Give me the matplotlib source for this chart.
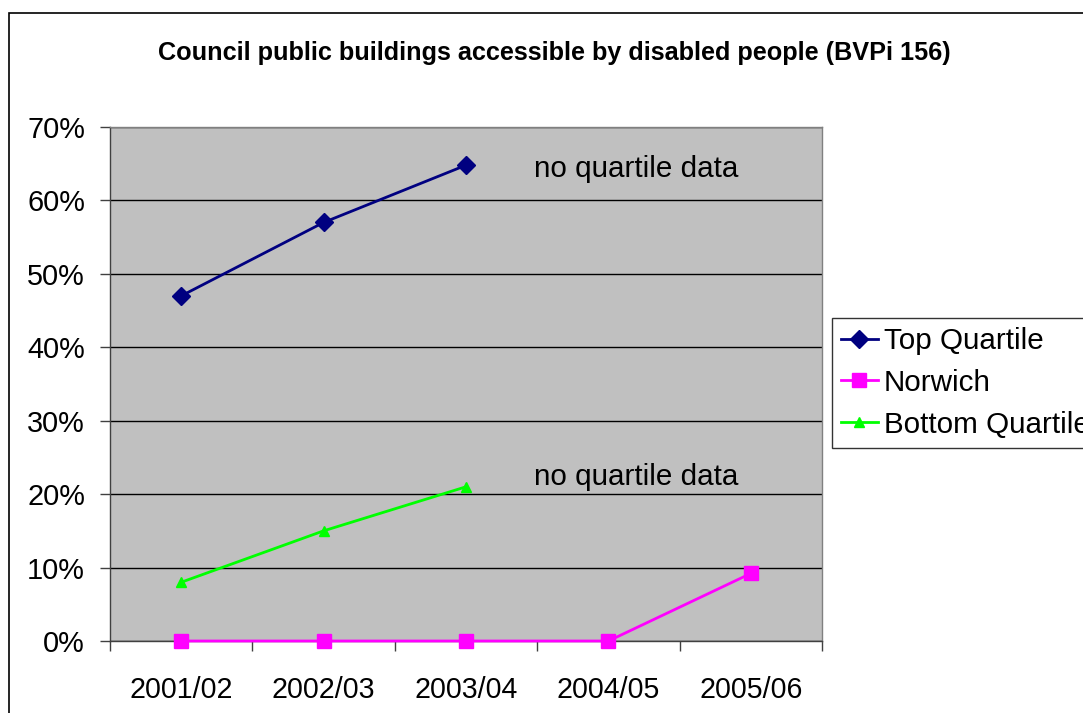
import matplotlib
matplotlib.use("Agg")
import matplotlib.pyplot as plt
from matplotlib.patches import Rectangle
from matplotlib.ticker import FuncFormatter, FixedLocator

categories = ["2001/02", "2002/03", "2003/04", "2004/05", "2005/06"]
top_quartile = [47, 57, 64.8]
norwich = [0, 0, 0, 0, 9.2]
bottom_quartile = [8, 15, 21]
title = "Council public buildings accessible by disabled people (BVPi 156)"
note = "no quartile data"

plt.rcParams['font.family'] = ['Liberation Sans', 'DejaVu Sans']

fig = plt.figure(figsize=(10.83, 7.13), dpi=100)
W, H = 1083, 713
ax = fig.add_axes([110 / W, 1 - 641 / H, (822 - 110) / W, (641 - 127) / H])
ax.set_facecolor('#C0C0C0')

x = list(range(len(categories)))
ax.plot(x[:3], top_quartile, color='#000080', lw=2, marker='D', ms=9, zorder=3, label='Top Quartile')
ax.plot(x, norwich, color='#FF00FF', lw=2, marker='s', ms=10, zorder=3, label='Norwich', clip_on=False)
ax.plot(x[:3], bottom_quartile, color='#00FF00', lw=2, marker='^', ms=7, zorder=3, label='Bottom Quartile')

ax.set_xlim(-0.5, 4.5)
ax.set_ylim(0, 70)
ax.yaxis.set_major_locator(FixedLocator(range(0, 71, 10)))
ax.yaxis.set_major_formatter(FuncFormatter(lambda v, p: f"{v:.0f}%"))
ax.grid(axis='y', color='black', lw=1, zorder=1)
ax.set_axisbelow(True)

ax.set_xticks([i - 0.5 for i in range(len(categories) + 1)], minor=False)
ax.set_xticklabels([])
ax.set_xticks(x, minor=True)
ax.set_xticklabels(categories, minor=True)
ax.tick_params(axis='x', which='major', length=7.2, width=1, color='#404040', direction='out')
ax.tick_params(axis='x', which='minor', length=0, labelsize=20.6, pad=25)
ax.tick_params(axis='y', length=7.2, width=1, color='#404040', labelsize=20.8, pad=10.8)

for side in ['top', 'right']:
    ax.spines[side].set_color('#808080')
    ax.spines[side].set_linewidth(1)
for side in ['left', 'bottom']:
    ax.spines[side].set_color('#404040')
    ax.spines[side].set_linewidth(1)

ax.text(2.48, 64.3, note, fontsize=21.3, va='center', ha='left')
ax.text(2.48, 22.3, note, fontsize=21.3, va='center', ha='left')

fig.text(554 / W, 1 - 53 / H, title, fontsize=18.2, fontweight='bold', ha='center', va='center')

leg = fig.legend(loc='upper left', bbox_to_anchor=(832 / W, 1 - 318 / H), fontsize=21.3,
                 frameon=True, fancybox=False, edgecolor='black', handlelength=1.25,
                 handletextpad=0.2, borderpad=0.3, labelspacing=0.47, borderaxespad=0)
leg.get_frame().set_linewidth(1)

fig.patches.append(Rectangle((9 / W, -0.05), 1.2, 1 - 13 / H + 0.05, transform=fig.transFigure,
                             fill=False, edgecolor='black', lw=1.2))

fig.savefig('out.png', dpi=100)
